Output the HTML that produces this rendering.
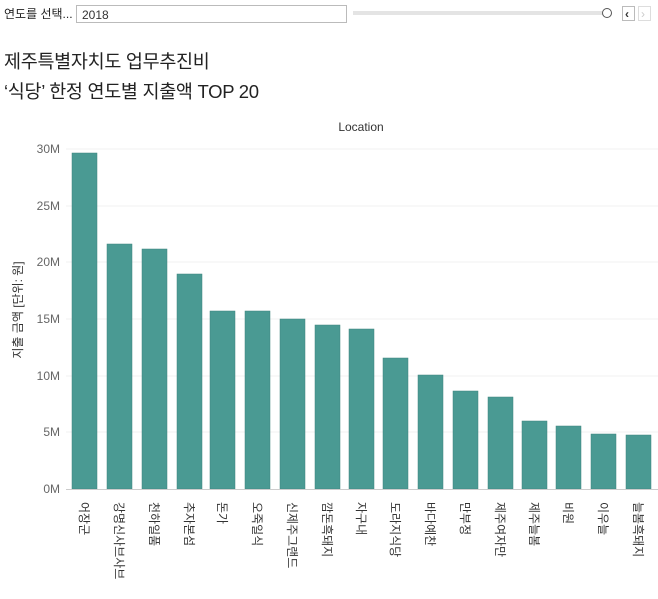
<!DOCTYPE html>
<html><head><meta charset="utf-8"><style>
body{margin:0;background:#fff;width:658px;height:594px;overflow:hidden;font-family:"Liberation Sans","Noto Sans CJK KR",sans-serif}
</style></head><body>
<svg width="658" height="594" xmlns="http://www.w3.org/2000/svg" font-family="Liberation Sans, Noto Sans CJK KR, sans-serif">
<text x="4" y="18" font-size="12" fill="#222">연도를 선택...</text>
<rect x="76.5" y="5.5" width="270" height="17" fill="#fff" stroke="#bbb"/>
<text x="82" y="19" font-size="12" fill="#333">2018</text>
<rect x="353" y="11" width="255" height="4" fill="#e4e4e4"/>
<circle cx="607" cy="13" r="4.5" fill="#fff" stroke="#555"/>
<rect x="622.5" y="6.5" width="12" height="14" fill="#fff" stroke="#bbb"/>
<text x="625" y="18" font-size="12" font-weight="bold" fill="#333">‹</text>
<rect x="638.5" y="6.5" width="12" height="14" fill="#fff" stroke="#ddd"/>
<text x="641" y="18" font-size="12" fill="#ccc">›</text>
<text x="4" y="68" font-size="18.5" fill="#222" letter-spacing="-0.3">제주특별자치도 업무추진비</text>
<text x="4" y="98" font-size="18.5" fill="#222" letter-spacing="-0.3">‘식당’ 한정 연도별 지출액 TOP 20</text>
<text x="361" y="131" font-size="12" fill="#333" text-anchor="middle">Location</text>
<g stroke="#f0f0f0">
<line x1="66" x2="658" y1="149" y2="149"/><line x1="66" x2="658" y1="206" y2="206"/><line x1="66" x2="658" y1="262" y2="262"/><line x1="66" x2="658" y1="319" y2="319"/><line x1="66" x2="658" y1="376" y2="376"/><line x1="66" x2="658" y1="432" y2="432"/>
</g>
<g font-size="12" fill="#666" text-anchor="end">
<text x="60" y="153">30M</text><text x="60" y="210">25M</text><text x="60" y="266">20M</text><text x="60" y="323">15M</text><text x="60" y="380">10M</text><text x="60" y="436">5M</text><text x="60" y="493">0M</text>
</g>
<text transform="translate(22,310) rotate(-90)" font-size="12" fill="#333" text-anchor="middle">지출 금액 [단위: 원]</text>
<g fill="#4a9a93" stroke="#3f847e" stroke-width="0.5">
<rect x="72" y="153" width="25" height="336"/>
<rect x="107" y="244" width="25" height="245"/>
<rect x="142" y="249" width="25" height="240"/>
<rect x="177" y="274" width="25" height="215"/>
<rect x="210" y="311" width="25" height="178"/>
<rect x="245" y="311" width="25" height="178"/>
<rect x="280" y="319" width="25" height="170"/>
<rect x="315" y="325" width="25" height="164"/>
<rect x="349" y="329" width="25" height="160"/>
<rect x="383" y="358" width="25" height="131"/>
<rect x="418" y="375" width="25" height="114"/>
<rect x="453" y="391" width="25" height="98"/>
<rect x="488" y="397" width="25" height="92"/>
<rect x="522" y="421" width="25" height="68"/>
<rect x="556" y="426" width="25" height="63"/>
<rect x="591" y="434" width="25" height="55"/>
<rect x="626" y="435" width="25" height="54"/>
</g>
<line x1="66" x2="658" y1="489.5" y2="489.5" stroke="#ccc"/>
<g font-size="12" fill="#333">
<text transform="translate(80,502) rotate(90)">어장군</text>
<text transform="translate(115,502) rotate(90)">강명신사브사브</text>
<text transform="translate(150,502) rotate(90)">천하일품</text>
<text transform="translate(185,502) rotate(90)">추자본섬</text>
<text transform="translate(218,502) rotate(90)">돈가</text>
<text transform="translate(253,502) rotate(90)">오죽일식</text>
<text transform="translate(288,502) rotate(90)">신제주그랜드</text>
<text transform="translate(323,502) rotate(90)">깜돈흑돼지</text>
<text transform="translate(357,502) rotate(90)">자구내</text>
<text transform="translate(391,502) rotate(90)">도라지식당</text>
<text transform="translate(426,502) rotate(90)">바다예찬</text>
<text transform="translate(461,502) rotate(90)">만부정</text>
<text transform="translate(496,502) rotate(90)">제주여자만</text>
<text transform="translate(530,502) rotate(90)">제주늘봄</text>
<text transform="translate(564,502) rotate(90)">비원</text>
<text transform="translate(599,502) rotate(90)">이우늘</text>
<text transform="translate(634,502) rotate(90)">늘봄흑돼지</text>
</g>
</svg>
</body></html>
